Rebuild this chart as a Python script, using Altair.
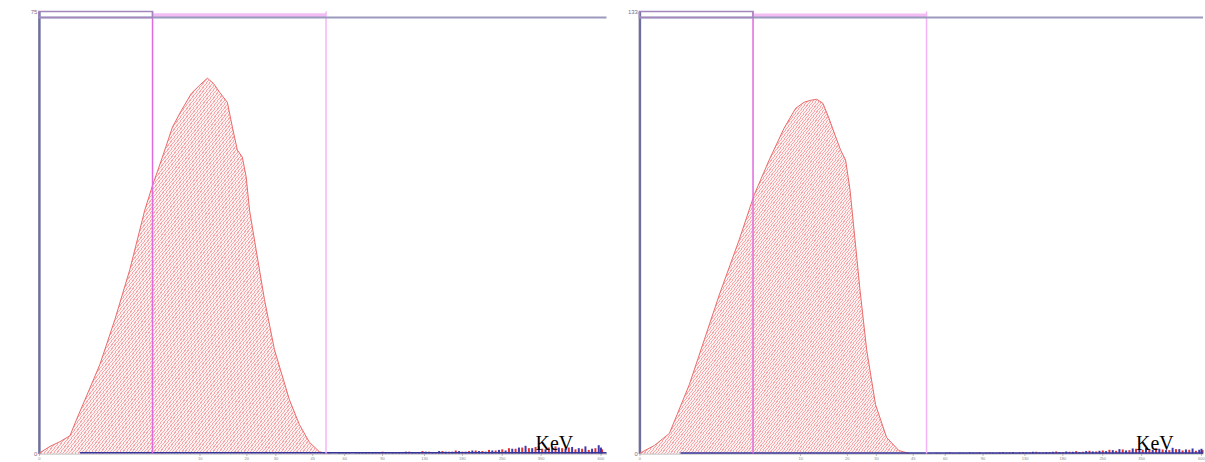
import altair as alt
import pandas as pd

# ---- spectrum data (channel, counts) ----
left_ch = [0, 20, 38, 56, 68, 83, 110, 137, 164, 191, 205, 221, 241, 257, 275, 290, 304,
           315, 326, 340, 349, 358, 367, 374, 380, 392, 407, 425, 452, 470, 488, 506, 518]
left_counts = [0, 1.2, 2.0, 3.0, 5.8, 9.1, 15.1, 22.7, 31.2, 41.3, 45.5, 49.8, 55.4, 58.2,
               61.1, 62.5, 63.7, 62.8, 61.3, 59.6, 55.4, 51.5, 50.3, 46.9, 41.3, 34.5, 26.1,
               17.6, 9.1, 4.9, 1.9, 0.3, 0]

right_ch = [0, 27, 54, 68, 90, 117, 144, 180, 207, 234, 261, 282, 297, 309, 320, 331, 342,
            353, 363, 372, 380, 389, 398, 410, 426, 446, 468, 486]
right_counts = [0, 2.4, 6.0, 11.7, 20.7, 34.2, 47.7, 64.3, 77.8, 88.3, 97.9, 103.9, 105.7,
                106.3, 106.6, 105.4, 100.9, 95.8, 91.3, 88.3, 79.3, 64.3, 49.2, 31.2, 14.7,
                4.8, 0.9, 0]

# background counts above the window
red_ch = [524, 536, 548, 560, 572, 584, 596, 608, 620, 632, 644, 656, 668, 680, 692, 704,
          716, 728, 740, 752, 764, 776, 788, 800, 812, 824, 836, 848, 860, 872, 884, 896,
          908, 920, 932, 944, 956, 968, 980, 992, 1004, 1016]
blue_ch = [530, 542, 554, 566, 578, 590, 602, 614, 626, 638, 650, 662, 674, 686, 698, 710,
           722, 734, 746, 758, 770, 782, 794, 806, 818, 830, 842, 854, 866, 878, 890, 902,
           914, 926, 938, 950, 962, 974, 986, 998, 1010, 1014]
left_red = [0.1, 0.0, 0.2, 0.1, 0.1, 0.2, 0.1, 0.2, 0.3, 0.1, 0.2, 0.2, 0.3, 0.2, 0.4, 0.3,
            0.2, 0.4, 0.3, 0.5, 0.3, 0.4, 0.5, 0.4, 0.6, 0.5, 0.7, 0.9, 0.8, 1.0, 0.9, 1.1,
            0.8, 1.0, 1.2, 0.9, 1.0, 0.7, 0.8, 0.6, 0.9, 0.7]
left_blue = [0.0, 0.1, 0.1, 0.0, 0.2, 0.1, 0.1, 0.1, 0.2, 0.2, 0.1, 0.3, 0.2, 0.2, 0.3, 0.2,
             0.4, 0.3, 0.3, 0.4, 0.3, 0.5, 0.4, 0.3, 0.5, 0.6, 0.5, 0.8, 1.0, 1.3, 0.9, 1.2,
             0.7, 0.9, 1.0, 0.8, 1.1, 0.9, 1.2, 0.8, 1.4, 1.0]
right_red = [0.1, 0.2, 0.0, 0.3, 0.1, 0.2, 0.3, 0.2, 0.1, 0.3, 0.2, 0.4, 0.3, 0.2, 0.4, 0.3,
             0.5, 0.3, 0.4, 0.6, 0.4, 0.5, 0.7, 0.5, 0.8, 0.6, 0.9, 1.1, 0.8, 1.2, 1.0, 1.4,
             1.1, 1.3, 1.6, 1.2, 1.0, 1.3, 0.9, 1.1, 0.8, 1.0]
right_blue = [0.0, 0.1, 0.2, 0.1, 0.2, 0.1, 0.2, 0.3, 0.2, 0.2, 0.3, 0.2, 0.4, 0.3, 0.3, 0.5,
              0.3, 0.4, 0.5, 0.4, 0.6, 0.5, 0.4, 0.7, 0.6, 0.8, 0.7, 1.0, 1.3, 0.9, 1.5, 1.2,
              1.6, 1.1, 1.4, 1.0, 1.7, 1.3, 1.2, 1.5, 1.1, 1.4]

# gate window (channels) and axis settings
gate_lo, gate_hi = 205, 518
baseline_start = 74
left_top, left_level, left_band = 75, 74.0, 74.7
right_top, right_level, right_band = 133, 131.2, 132.4

tick_ch = [0, 214, 290, 338, 374, 403, 427, 464, 493, 520, 551, 578, 619, 659, 695, 727,
           763, 799, 835, 871, 905, 968, 1013]
tick_lbl = ["0", "5", "10", "15", "20", "25", "30", "40", "45", "50", "60", "70", "90",
            "110", "130", "150", "180", "210", "250", "300", "350", "450", "600"]
unit_label = "KeV"
unit_ch = 930


def hatch(cycles, ink="#f3a9a9", paper="#fff1f1", duty=0.36):
    stops = []
    for k in range(cycles):
        a = k / cycles
        b = (k + duty) / cycles
        c = min((k + 1) / cycles, 1.0)
        stops += [{"offset": a, "color": ink}, {"offset": b, "color": ink},
                  {"offset": b, "color": paper}, {"offset": c, "color": paper}]
    return {"gradient": "linear", "x1": 0, "y1": 0, "x2": 1, "y2": 1, "stops": stops}


label_expr = "[" + ",".join(f"'{t}'" for t in tick_lbl) + "][indexof([" + \
    ",".join(str(v) for v in tick_ch) + "], datum.value)]"


def panel(ch, counts, reds, blues, top, level, band, x_max, width, y_extent):
    spec = pd.DataFrame({"ch": ch, "counts": counts})
    red = pd.DataFrame({"ch": red_ch, "counts": reds})
    blue = pd.DataFrame({"ch": blue_ch, "counts": blues})
    gates = pd.DataFrame({"lo": [gate_lo], "hi": [gate_hi], "start": [baseline_start],
                          "end": [x_max], "zero": [0], "level": [level], "band": [band],
                          "top": [top], "base": [0.1], "unit": [unit_ch]})

    x_scale = alt.Scale(domain=[0, x_max], nice=False, zero=False)
    y_scale = alt.Scale(domain=[0, top], nice=False)
    x_axis = alt.Axis(values=tick_ch, labelExpr=label_expr, labelFontSize=4,
                      labelColor="#8a8a8a", tickSize=2, tickColor="#b8b8b8",
                      domainColor="#a8a8a8", domainWidth=1, labelPadding=1,
                      labelOverlap=False, labelSeparation=0, labelFlush=False,
                      grid=False, title=None, minExtent=8, maxExtent=8)
    y_axis = alt.Axis(values=[0, top], title=None, grid=False, ticks=False,
                      labelFontSize=6, labelColor="#7a6f8e", domainColor="#6f6f9f",
                      domainWidth=2.5, labelPadding=2,
                      minExtent=y_extent, maxExtent=y_extent)

    area = alt.Chart(spec).mark_area(fill=hatch(185), line=False).encode(
        x=alt.X("ch:Q", scale=x_scale, axis=x_axis),
        y=alt.Y("counts:Q", scale=y_scale, axis=y_axis),
    )
    outline = alt.Chart(spec).mark_line(color="#ea6a6a", strokeWidth=1).encode(
        x="ch:Q", y="counts:Q")

    g = alt.Chart(gates)
    base_line = g.mark_rule(color="#34349a", strokeWidth=1.5).encode(
        x="start:Q", x2="end:Q", y="base:Q")
    red_bars = alt.Chart(red).mark_rule(color="#e03030", strokeWidth=2).encode(
        x="ch:Q", y="counts:Q", y2=alt.datum(0))
    blue_bars = alt.Chart(blue).mark_rule(color="#3a3ab0", strokeWidth=2).encode(
        x="ch:Q", y="counts:Q", y2=alt.datum(0))

    gate1 = g.mark_rule(color="#e06ae0", strokeWidth=1.5).encode(x="lo:Q")
    gate2 = g.mark_rule(color="#f5b4f5", strokeWidth=1.5).encode(x="hi:Q")

    band_rect = g.mark_rect(color="#f3bdf3").encode(
        x="lo:Q", x2="hi:Q", y="level:Q", y2="band:Q")
    level_line = g.mark_rule(color="#9a9abd", strokeWidth=2).encode(y="level:Q")
    box = g.mark_rect(fillOpacity=0, stroke="#a286bd", strokeWidth=1.5).encode(
        x="zero:Q", x2="lo:Q", y="level:Q", y2="top:Q")

    unit = g.mark_text(
        text=unit_label, font="Liberation Serif", fontSize=20, color="#000000",
        align="center", baseline="alphabetic", dy=-3,
    ).encode(x="unit:Q", y="zero:Q")

    return alt.layer(
        area, outline, red_bars, blue_bars, base_line, gate1, gate2,
        band_rect, level_line, box, unit,
    ).properties(width=width, height=443)


left = panel(left_ch, left_counts, left_red, left_blue,
             left_top, left_level, left_band, 1024, 569, 39)
right = panel(right_ch, right_counts, right_red, right_blue,
              right_top, right_level, right_band, 1016.8, 565, 32)

chart = alt.hconcat(left, right, spacing=0).properties(
    padding={"top": 8, "left": 0, "right": 0, "bottom": 0},
    background="#ffffff",
).configure_view(strokeWidth=0).configure_axisX(labelOverlap=False)

chart.save("out.html", embed_options={"renderer": "svg", "actions": False})
